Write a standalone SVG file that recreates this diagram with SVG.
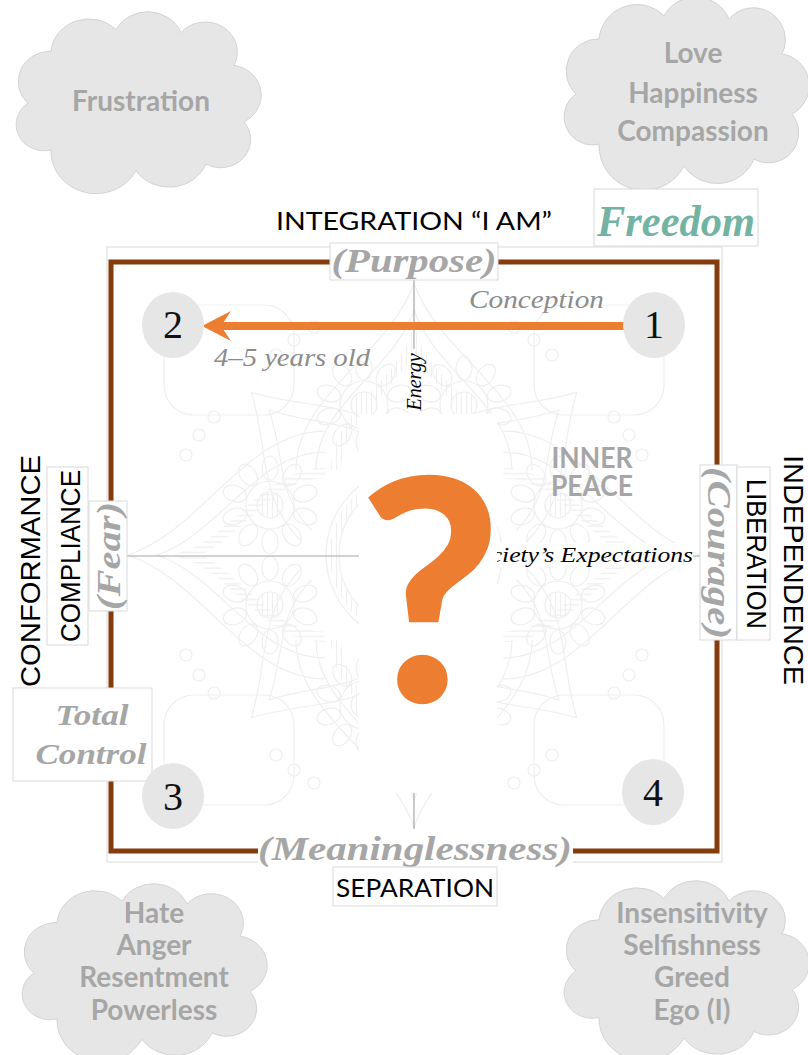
<svg xmlns="http://www.w3.org/2000/svg" width="808" height="1055" viewBox="0 0 808 1055">
  <defs>
    <style>
      .cloud { fill: #e6e6e6; stroke: #d2d2d2; stroke-width: 1; }
      .cloudtxt { font-family: Lato, "Open Sans", sans-serif; font-weight: 700; font-size: 28px; fill: #a6a6a6; text-anchor: middle; }
      .disc { fill: #e6e6e6; }
      .num { font-family: "Liberation Serif", "DejaVu Serif", serif; font-size: 40px; fill: #111; text-anchor: middle; }
      .emph { font-family: "Liberation Serif", "DejaVu Serif", serif; font-style: italic; font-weight: 700; fill: #a6a6a6; text-anchor: middle; }
      .note { font-family: "Liberation Serif", "DejaVu Serif", serif; font-style: italic; fill: #8c8c8c; font-size: 25px; }
      .axis { font-family: "Liberation Sans", Arial, sans-serif; font-size: 28px; fill: #000; text-anchor: middle; }
      .head { font-family: Lato, "Open Sans", sans-serif; font-size: 25px; fill: #000; text-anchor: middle; }
      .tb { fill: #fff; stroke: #d9d9d9; stroke-width: 1; }
      .wb { fill: #fff; }
      .thin { stroke: #a6a6a6; stroke-width: 1.2; fill: none; }
      .mand { fill: none; stroke: #efefef; stroke-width: 1.2; }
    </style>
    <path id="cloudShape" d="M45,150 A28,28 0 0 1 22,100 A32,32 0 0 1 45,45 A38,38 0 0 1 110,22 A36,36 0 0 1 175,25 A32,32 0 0 1 228,60 A32,32 0 0 1 238,120 A30,30 0 0 1 200,165 A40,40 0 0 1 130,172 A45,45 0 0 1 45,150 Z"/>
    <pattern id="hatch" width="5" height="5" patternUnits="userSpaceOnUse">
      <line x1="2.5" y1="0" x2="2.5" y2="5" stroke="#efefef" stroke-width="1.2"/>
    </pattern>
    <g id="flower">
      <circle r="24"/>
      <circle r="13" fill="url(#hatch)"/>
      <ellipse cx="0" cy="-37" rx="8" ry="12"/>
      <ellipse cx="0" cy="-37" rx="8" ry="12" transform="rotate(36)"/>
      <ellipse cx="0" cy="-37" rx="8" ry="12" transform="rotate(72)"/>
      <ellipse cx="0" cy="-37" rx="8" ry="12" transform="rotate(108)"/>
      <ellipse cx="0" cy="-37" rx="8" ry="12" transform="rotate(144)"/>
      <ellipse cx="0" cy="-37" rx="8" ry="12" transform="rotate(180)"/>
      <ellipse cx="0" cy="-37" rx="8" ry="12" transform="rotate(216)"/>
      <ellipse cx="0" cy="-37" rx="8" ry="12" transform="rotate(252)"/>
      <ellipse cx="0" cy="-37" rx="8" ry="12" transform="rotate(288)"/>
      <ellipse cx="0" cy="-37" rx="8" ry="12" transform="rotate(324)"/>
    </g>
    <g id="petal">
      <path d="M-118,-85 C-118,-160 -25,-200 0,-272 C25,-200 118,-160 118,-85"/>
      <path d="M-98,-85 C-98,-150 -20,-185 0,-245 C20,-185 98,-150 98,-85"/>
      <path d="M-78,-85 C-78,-140 -15,-170 0,-215 C15,-170 78,-140 78,-85" stroke="url(#hatch)" stroke-width="10"/>
    </g>
    <g id="arch">
      <path d="M-70,-90 C-70,-150 -30,-175 0,-230 C30,-175 70,-150 70,-90"/>
      <path d="M-55,-90 C-55,-140 -22,-160 0,-205 C22,-160 55,-140 55,-90"/>
    </g>
  </defs>

  <!-- page background -->
  <rect x="0" y="0" width="808" height="1055" fill="#fff"/>

  <!-- emotion clouds -->
  <g id="cloud-frustration">
    <use href="#cloudShape" class="cloud" transform="translate(6,9) scale(1,0.94)"/>
    <text class="cloudtxt" x="141" y="111">Frustration</text>
  </g>
  <g id="cloud-love">
    <use href="#cloudShape" class="cloud" transform="translate(554,-6)"/>
    <text class="cloudtxt" x="693" y="63">Love</text>
    <text class="cloudtxt" x="693" y="103">Happiness</text>
    <text class="cloudtxt" x="693" y="141">Compassion</text>
  </g>
  <g id="cloud-hate">
    <use href="#cloudShape" class="cloud" transform="translate(12,881) scale(1,0.92)"/>
    <text class="cloudtxt" x="154" y="923">Hate</text>
    <text class="cloudtxt" x="154" y="955">Anger</text>
    <text class="cloudtxt" x="154" y="987">Resentment</text>
    <text class="cloudtxt" x="154" y="1020">Powerless</text>
  </g>
  <g id="cloud-ego">
    <use href="#cloudShape" class="cloud" transform="translate(554,878) scale(1,0.93)"/>
    <text class="cloudtxt" x="692" y="923">Insensitivity</text>
    <text class="cloudtxt" x="692" y="955">Selfishness</text>
    <text class="cloudtxt" x="692" y="987">Greed</text>
    <text class="cloudtxt" x="692" y="1020">Ego (I)</text>
  </g>

  <!-- heading and Freedom tag -->
  <g id="integration">
    <text class="head" x="414" y="230" textLength="276" lengthAdjust="spacingAndGlyphs">INTEGRATION  “I AM”</text>
  </g>
  <g id="freedom">
    <rect class="tb" x="594" y="189" width="164" height="57"/>
    <text class="emph" x="676" y="236" font-size="44" style="fill:#73b3a3" textLength="158" lengthAdjust="spacingAndGlyphs">Freedom</text>
  </g>

  <!-- framed square -->
  <g id="frame">
    <rect x="107" y="247" width="615" height="615" fill="#fff" stroke="#d9d9d9" stroke-width="1"/>
    <!-- faint mandala ornament -->
    <g class="mand" transform="translate(414,555)">
      <use href="#petal"/>
      <use href="#petal" transform="rotate(90) scale(1.05)"/>
      <use href="#petal" transform="rotate(180)"/>
      <use href="#petal" transform="rotate(270) scale(1.05)"/>
      <use href="#arch" transform="rotate(45)"/>
      <use href="#arch" transform="rotate(135)"/>
      <use href="#arch" transform="rotate(225)"/>
      <use href="#arch" transform="rotate(315)"/>
      <circle r="75"/>
      <circle r="88"/>
      <circle r="80" stroke="url(#hatch)" stroke-width="8"/>
      <use href="#flower" x="-144" y="-50"/>
      <use href="#flower" x="-144" y="50"/>
      <use href="#flower" x="144" y="-50"/>
      <use href="#flower" x="144" y="50"/>
      <use href="#flower" x="-50" y="-150"/>
      <use href="#flower" x="50" y="-150"/>
      <use href="#flower" x="-50" y="150"/>
      <use href="#flower" x="50" y="150"/>
      <circle cx="-215" cy="-120" r="6"/><circle cx="-228" cy="-100" r="6"/><circle cx="-200" cy="-138" r="6"/>
      <circle cx="215" cy="-120" r="6"/><circle cx="228" cy="-100" r="6"/><circle cx="200" cy="-138" r="6"/>
      <circle cx="-215" cy="120" r="6"/><circle cx="-228" cy="100" r="6"/><circle cx="-200" cy="138" r="6"/>
      <circle cx="215" cy="120" r="6"/><circle cx="228" cy="100" r="6"/><circle cx="200" cy="138" r="6"/>
      <circle cx="-120" cy="-215" r="6"/><circle cx="-100" cy="-228" r="6"/><circle cx="-138" cy="-200" r="6"/>
      <circle cx="120" cy="-215" r="6"/><circle cx="100" cy="-228" r="6"/><circle cx="138" cy="-200" r="6"/>
      <circle cx="-120" cy="215" r="6"/><circle cx="-100" cy="228" r="6"/><circle cx="-138" cy="200" r="6"/>
      <circle cx="120" cy="215" r="6"/><circle cx="100" cy="228" r="6"/><circle cx="138" cy="200" r="6"/>
      <rect x="-250" y="-250" width="130" height="110" rx="30"/>
      <rect x="120" y="-250" width="130" height="110" rx="30"/>
      <rect x="-250" y="140" width="130" height="110" rx="30"/>
      <rect x="120" y="140" width="130" height="110" rx="30"/>
    </g>
    <rect x="111" y="262" width="606" height="589" fill="none" stroke="#843c0c" stroke-width="5"/>
  </g>

  <!-- connectors -->
  <g id="connectors">
    <line class="thin" x1="414" y1="280" x2="414" y2="349"/>
    <line class="thin" x1="414" y1="793" x2="414" y2="829"/>
    <line class="thin" x1="127" y1="556" x2="360" y2="556"/>
    <line class="thin" x1="497" y1="556" x2="737" y2="556"/>
    <line x1="218" y1="326" x2="627" y2="326" stroke="#ed7d31" stroke-width="8"/>
    <polygon points="202,326 231,311 221,326 231,341" fill="#ed7d31"/>
  </g>

  <!-- side labels -->
  <g id="purpose">
    <rect class="tb" x="330" y="243" width="168" height="37"/>
    <text class="emph" x="414" y="272" font-size="34" textLength="165" lengthAdjust="spacingAndGlyphs">(Purpose)</text>
  </g>
  <g id="meaninglessness">
    <rect class="wb" x="258" y="837" width="315" height="30"/>
    <text class="emph" x="415" y="860" font-size="34" textLength="314" lengthAdjust="spacingAndGlyphs">(Meaninglessness)</text>
  </g>
  <g id="separation">
    <rect class="tb" x="333" y="867" width="164" height="39"/>
    <text class="head" x="415" y="897" textLength="158" lengthAdjust="spacingAndGlyphs">SEPARATION</text>
  </g>
  <g id="fear">
    <rect class="tb" x="89" y="501" width="38" height="110"/>
    <text class="emph" font-size="34" transform="translate(120,556) rotate(-90)" textLength="108" lengthAdjust="spacingAndGlyphs">(Fear)</text>
  </g>
  <g id="compliance">
    <rect class="tb" x="47" y="467" width="41" height="178"/>
    <text class="axis" transform="translate(80,556) rotate(-90)" textLength="172" lengthAdjust="spacingAndGlyphs">COMPLIANCE</text>
  </g>
  <g id="conformance">
    <text class="axis" transform="translate(40,571) rotate(-90)" textLength="232" lengthAdjust="spacingAndGlyphs">CONFORMANCE</text>
  </g>
  <g id="courage">
    <rect class="tb" x="700" y="465" width="37" height="175"/>
    <text class="emph" font-size="34" transform="translate(708,553) rotate(90)" textLength="172" lengthAdjust="spacingAndGlyphs">(Courage)</text>
  </g>
  <g id="liberation">
    <rect class="tb" x="737" y="467" width="33" height="173"/>
    <text class="axis" transform="translate(747,554) rotate(90)" textLength="150" lengthAdjust="spacingAndGlyphs">LIBERATION</text>
  </g>
  <g id="independence">
    <text class="axis" font-size="27" transform="translate(784,570) rotate(90)" textLength="230" lengthAdjust="spacingAndGlyphs">INDEPENDENCE</text>
  </g>
  <g id="total-control">
    <rect class="tb" x="13" y="688" width="139" height="93"/>
    <text class="emph" x="92" y="725" font-size="30" textLength="73" lengthAdjust="spacingAndGlyphs">Total</text>
    <text class="emph" x="91" y="764" font-size="30" textLength="111" lengthAdjust="spacingAndGlyphs">Control</text>
  </g>

  <!-- stage discs -->
  <g id="stage-1">
    <ellipse class="disc" cx="654" cy="325" rx="31" ry="33"/>
    <text class="num" x="654" y="338">1</text>
  </g>
  <g id="stage-2">
    <ellipse class="disc" cx="173" cy="325" rx="31" ry="33"/>
    <text class="num" x="173" y="338">2</text>
  </g>
  <g id="stage-3">
    <ellipse class="disc" cx="173" cy="796" rx="31" ry="33"/>
    <text class="num" x="173" y="810">3</text>
  </g>
  <g id="stage-4">
    <ellipse class="disc" cx="653" cy="792" rx="31" ry="33"/>
    <text class="num" x="653" y="806">4</text>
  </g>

  <!-- annotations -->
  <g id="conception">
    <text class="note" x="604" y="308" text-anchor="end" textLength="135" lengthAdjust="spacingAndGlyphs">Conception</text>
  </g>
  <g id="age">
    <text class="note" x="214" y="366" textLength="156" lengthAdjust="spacingAndGlyphs">4–5 years old</text>
  </g>
  <g id="energy">
    <text font-family="Liberation Serif, DejaVu Serif, serif" font-style="italic" font-size="20" fill="#000" text-anchor="middle" transform="translate(421,382) rotate(-90)">Energy</text>
  </g>
  <g id="expectations">
    <rect class="wb" x="497" y="543" width="196" height="24"/>
    <text font-family="Liberation Serif, DejaVu Serif, serif" font-style="italic" font-size="22" fill="#000" text-anchor="end" x="693" y="562" textLength="228" lengthAdjust="spacingAndGlyphs">Society’s Expectations</text>
  </g>
  <g id="inner-peace">
    <text class="cloudtxt" x="592" y="468" font-size="26" textLength="81" lengthAdjust="spacingAndGlyphs">INNER</text>
    <text class="cloudtxt" x="592" y="496" font-size="26" textLength="82" lengthAdjust="spacingAndGlyphs">PEACE</text>
  </g>

  <!-- central question mark on its white panel -->
  <g id="question">
    <rect class="wb" x="359" y="414" width="138" height="379"/>
    <text x="430" y="702" font-family="Lato, 'Open Sans', sans-serif" font-weight="900" font-size="310" fill="#ed7d31" text-anchor="middle">?</text>
  </g>
</svg>
